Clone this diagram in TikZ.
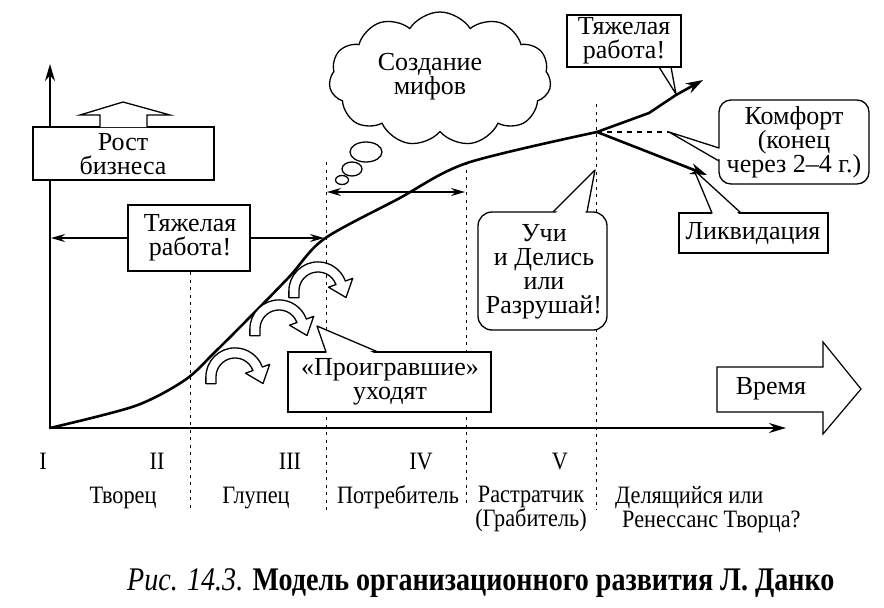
\documentclass[tikz,border=0pt]{standalone}
\usepackage{fontspec}
\setmainfont{Liberation Serif}
\newfontfamily\condfont{Liberation Serif}[FakeStretch=0.89]
\newfontfamily\captfont{Liberation Serif}[FakeStretch=0.85]
\usetikzlibrary{arrows.meta,shapes.symbols}
\begin{document}
\begin{tikzpicture}[x=1pt,y=-1pt,
  lbl/.style={font=\fontsize{26}{24}\selectfont, align=center, inner sep=0pt},
  bot/.style={font=\condfont\fontsize{25}{24}\selectfont, inner sep=0pt},
  boxline/.style={draw, fill=white, line width=1.3pt},
  dashv/.style={dash pattern=on 3pt off 4.5pt, line width=0.9pt},
  axisline/.style={line width=2pt, -{Stealth[length=17pt,width=10pt]}},
  thinarrow/.style={line width=1.3pt, -{Stealth[length=14pt,width=8pt]}},
  growth/.style={line width=2.6pt, line join=round, line cap=round},
  curly/.pic={\draw[fill=white, line width=1.3pt, line join=round]
     (-26,6) -- (-26,0) arc[start angle=180, end angle=340, radius=26]
     -- (31.0,-11.3) -- (25.0,5.8) -- (9.4,-3.4) -- (16.0,-5.8)
     arc[start angle=340, end angle=180, radius=17] -- (-17,6) -- cycle;},
]
\useasboundingbox (0,0) rectangle (884,608);
\fill[white] (0,0) rectangle (884,608);

% dashed phase separators
\coordinate (d1t) at (190,272); \coordinate (d1b) at (190,510);
\coordinate (d2t) at (326,162); \coordinate (d2b) at (326,510);
\coordinate (d3t) at (466,162); \coordinate (d3b) at (466,506);
\coordinate (d4t) at (596,104); \coordinate (d4b) at (596,510);
\draw[dashv] (d1t) -- (d1b);
\draw[dashv] (d2t) -- (d2b);
\draw[dashv] (d3t) -- (d3b);
\draw[dashv] (d4t) -- (d4b);

% axes
\coordinate (O) at (50,428);
\coordinate (ytop) at (50,64);
\coordinate (xend) at (786,428);
\draw[axisline] (O) -- (ytop);
\draw[axisline] (O) -- (xend);

% Time arrow
\draw[boxline, line width=1.2pt] (717,367) -- (823,367) -- (823,342) -- (861,389) -- (823,434) -- (823,412) -- (717,412) -- cycle;
\node[lbl] (vremya) at (771,389) {Время};

% Рост бизнеса
\draw[boxline] (33,127) rectangle (214,180);
\draw[line width=1.3pt, fill=white] (100,127) -- (100,115) -- (80,115) -- (123,102) -- (170,115) -- (147,115) -- (147,127);
\node[lbl] (rost) at (123,154) {Рост\\бизнеса};

% Тяжелая работа (left)
\draw[boxline] (128,205) rectangle (250,271);
\node[lbl] (hw1) at (190,238) {Тяжелая\\работа!};
\coordinate (hw1w) at (128,238); \coordinate (hw1e) at (250,238);
\coordinate (yax) at (51,238); \coordinate (crv) at (324,238);
\draw[thinarrow] (hw1w) -- (yax);
\draw[thinarrow] (hw1e) -- (crv);

% double arrow in phase IV
\coordinate (da1) at (327,192); \coordinate (da2) at (465,192);
\draw[line width=1.3pt, {Stealth[length=14pt,width=8pt]}-{Stealth[length=14pt,width=8pt]}] (da1) -- (da2);

% growth curve
\draw[growth] plot[smooth, tension=0.5] coordinates {(50,428) (135,406) (185,380) (215,352) (253,314) (290,276) (324,239) (398,199) (467,163) (597,132)};
\coordinate (br) at (597,132);
\coordinate (up1) at (649,113); \coordinate (up2) at (676,95); \coordinate (upend) at (703,80);
\coordinate (downend) at (707,175);
\draw[growth, -{Stealth[length=17pt,width=11pt]}] (br) -- (up1) -- (up2) -- (upend);
\draw[growth, -{Stealth[length=17pt,width=11pt]}] (br) -- (downend);
\coordinate (komfTip) at (669,132);
\draw[line width=1.2pt, dash pattern=on 5pt off 5pt] (br) -- (komfTip);

% curly "losers" arrows
\pic[scale=1.12] at (235,377) {curly};
\pic[scale=1.12] at (279,329) {curly};
\pic[scale=1.12] at (318,291) {curly};

% Проигравшие уходят
\draw[boxline] (288,352) rectangle (491,412);
\coordinate (pA) at (317,326); \coordinate (pB1) at (326,352); \coordinate (pB2) at (378,352);
\fill[white] (327,354) -- (pA) -- (376,354) -- cycle;
\draw[line width=1.3pt, line join=round] (pB1) -- (pA) -- (pB2);
\node[lbl] (proig) at (390,382) {«Проигравшие»\\уходят};

% cloud
\node[cloud, draw, line width=1.3pt, fill=white, cloud puffs=11, cloud puff arc=115, cloud ignores aspect, minimum width=222pt, minimum height=134pt, inner sep=0pt] (cloud) at (440,79) {};
\node[lbl] (mif) at (430,77) {Создание\\мифов};
\draw[line width=1.3pt] (366,152) ellipse[x radius=16, y radius=10];
\draw[line width=1.3pt] (352,169) ellipse[x radius=10, y radius=7];
\draw[line width=1.3pt] (342,180) ellipse[x radius=6.5, y radius=4.5];

% Учи и Делись
\draw[boxline, rounded corners=14pt] (478,212) rectangle (607,330);
\coordinate (uA) at (595,170); \coordinate (uB1) at (553,212); \coordinate (uB2) at (587,212);
\fill[white] (555,214) -- (uA) -- (585,214) -- cycle;
\draw[line width=1.3pt, line join=round] (uB1) -- (uA) -- (uB2);
\node[lbl] (uchi) at (544,272) {Учи\\и Делись\\или\\Разрушай!};

% Тяжелая работа (top right)
\draw[boxline] (567,15) rectangle (681,67);
\coordinate (tA) at (676,94); \coordinate (tB1) at (659,67); \coordinate (tB2) at (671,67);
\fill[white] (660,69) -- (tA) -- (670,69) -- cycle;
\draw[line width=1.3pt, line join=round] (tB1) -- (tA) -- (tB2);
\node[lbl] (hw2) at (624,41) {Тяжелая\\работа!};

% Комфорт
\draw[boxline, rounded corners=12pt] (719,100) rectangle (869,184);
\coordinate (kB1) at (719,148); \coordinate (kB2) at (719,161);
\fill[white] (721,149) -- (komfTip) -- (721,160) -- cycle;
\draw[line width=1.3pt, line join=round] (kB1) -- (komfTip) -- (kB2);
\node[lbl] (komf) at (794,142) {Комфорт\\(конец\\через 2--4 г.)};

% Ликвидация
\draw[boxline] (679,213) rectangle (828,253);
\coordinate (lA) at (694,170); \coordinate (lB1) at (712,213); \coordinate (lB2) at (741,213);
\fill[white] (713,215) -- (lA) -- (740,215) -- cycle;
\draw[line width=1.3pt, line join=round] (lB1) -- (lA) -- (lB2);
\node[lbl] (likv) at (753,233) {Ликвидация};

% phase numerals and names
\node[bot, anchor=base] (n1) at (43,469) {I};
\node[bot, anchor=base] (n2) at (157,469) {II};
\node[bot, anchor=base] (n3) at (290,469) {III};
\node[bot, anchor=base] (n4) at (421,469) {IV};
\node[bot, anchor=base] (n5) at (560,469) {V};
\node[bot, anchor=base] (p1) at (123,503) {Творец};
\node[bot, anchor=base] (p2) at (256,503) {Глупец};
\node[bot, anchor=base] (p3) at (398,503) {Потребитель};
\node[bot, anchor=north, align=center] (p4) at (531,486) {Растратчик\\(Грабитель)};
\node[bot, anchor=north west, align=left] (p5) at (615,486) {Делящийся или\\\hspace*{7pt}Ренессанс Творца?};

% caption
\node[font=\captfont\fontsize{33}{34}\selectfont, anchor=base west, inner sep=0pt] (cap) at (127,590) {\itshape Рис. 14.3. \upshape\bfseries Модель организационного развития Л.~Данко};
\end{tikzpicture}
\end{document}
